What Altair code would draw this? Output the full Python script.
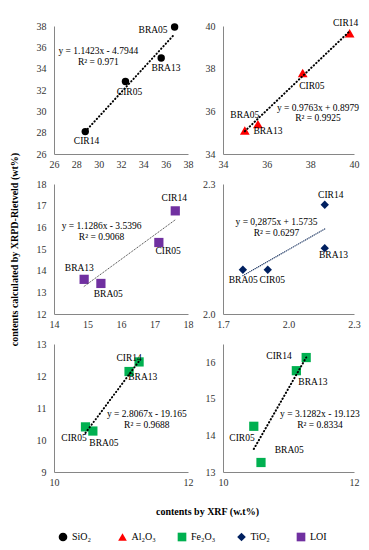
import altair as alt
import pandas as pd

# ---------------- data ----------------
samples = ["BRA05", "BRA13", "CIR05", "CIR14"]
oxides = ["SiO₂", "Al₂O₃", "Fe₂O₃", "TiO₂", "LOI"]
oxide_colors = ["#000000", "#ff0000", "#00b050", "#002060", "#7030a0"]
oxide_shapes = ["circle", "triangle-up", "square", "diamond", "square"]

sio2_xrf = [36.8, 35.6, 32.4, 28.8]
sio2_rietveld = [37.9, 35.0, 32.8, 28.1]
al2o3_xrf = [35.0, 35.6, 37.65, 39.8]
al2o3_rietveld = [35.1, 35.4, 37.8, 39.66]
loi_xrf = [15.4, 14.9, 17.13, 17.62]
loi_rietveld = [13.41, 13.6, 15.3, 16.76]
tio2_xrf = [1.791, 2.166, 1.905, 2.166]
tio2_rietveld = [2.102, 2.152, 2.102, 2.252]
fe2o3_xrf = [10.58, 11.12, 10.47, 11.27]
fe2o3_rietveld_a = [10.28, 12.14, 10.41, 12.44]
fe2o3_rietveld_b = [13.26, 15.77, 14.25, 16.13]

panel_oxide = ["SiO₂", "Al₂O₃", "LOI", "TiO₂", "Fe₂O₃", "Fe₂O₃"]
panel_xrf = [sio2_xrf, al2o3_xrf, loi_xrf, tio2_xrf, fe2o3_xrf, fe2o3_xrf]
panel_riet = [sio2_rietveld, al2o3_rietveld, loi_rietveld, tio2_rietveld,
              fe2o3_rietveld_a, fe2o3_rietveld_b]

trend_slope = [1.1423, 0.9763, 1.1286, 0.2875, 2.8067, 3.1282]
trend_intercept = [-4.7944, 0.8979, -3.5396, 1.5735, -19.165, -19.123]
trend_equation = ["y = 1.1423x - 4.7944", "y = 0.9763x + 0.8979", "y = 1.1286x - 3.5396",
                  "y = 0,2875x + 1.5735", "y = 2.8067x - 19.165", "y = 3.1282x - 19.123"]
trend_r2 = ["R² = 0.971", "R² = 0.9925", "R² = 0.9068", "R² = 0.6297", "R² = 0.9688", "R² = 0.8334"]

x_ticks = [[26, 28, 30, 32, 34, 36, 38], [34, 36, 38, 40], [14, 15, 16, 17, 18],
           [1.7, 2.0, 2.3], [10, 11, 12], [10, 11, 12]]
y_ticks = [[26, 28, 30, 32, 34, 36, 38], [34, 36, 38, 40], [12, 13, 14, 15, 16, 17, 18],
           [2.0, 2.3], [9, 10, 11, 12, 13], [13, 14, 15, 16]]
x_domain = [[26, 38], [34, 40], [14, 18], [1.7, 2.3], [10, 12], [10, 12]]
y_domain = [[26, 38], [34, 40], [12, 18], [2.0, 2.3], [9, 13], [13, 16.5]]

y_title = "contents calculated by XRPD-Rietveld (wt%)"
x_title = "contents by XRF (w.t%)"

# ---------------- styles / placement ----------------
FONT = "Liberation Serif, Times New Roman, serif"
THICK = dict(lc="#000000", lw=2.0, dash=[0.4, 3.0])
STYLE = [
    dict(w=134, h=128, size=55, eq=(29.97, 35.65), **THICK,
         off={"BRA05": (-21.5, 2.6), "BRA13": (4.7, 10), "CIR05": (4, 11), "CIR14": (1.2, 9.3)}),
    dict(w=131, h=128, size=95, eq=(38.35, 36.17), **THICK,
         off={"BRA05": (0, -16), "BRA13": (10, 7.3), "CIR05": (9.2, 12.6), "CIR14": (-4, -10.6)}),
    dict(w=134, h=130, size=85, lc="#404040", lw=1.0, dash=[0.3, 1.7], eq=(15.42, 16.06),
         off={"BRA05": (7.4, 10.7), "BRA13": (-4.8, -11), "CIR05": (9.2, 8.4), "CIR14": (-1, -12.4)}),
    dict(w=131, h=130, size=70, lc="#1f3864", lw=1.2, dash=[0.3, 1.7], eq=(1.945, 2.212),
         off={"BRA05": (0.4, 10.3), "BRA13": (8.8, 7), "CIR05": (4.5, 10.3), "CIR14": (6, -9.7)}),
    dict(w=134, h=128, size=85, eq=(11.385, 10.80), **THICK,
         off={"BRA05": (11, 11.7), "BRA13": (13.7, 5.3), "CIR05": (-11.5, 11.6), "CIR14": (-10, -4.3)}),
    dict(w=131, h=128, size=85, eq=(11.48, 14.58), **THICK,
         off={"BRA05": (28.3, -12.7), "BRA13": (16.5, 11), "CIR05": (-11.8, 11.7), "CIR14": (-27.2, -1.7)}),
]

color_scale = alt.Scale(domain=oxides, range=oxide_colors)
shape_scale = alt.Scale(domain=oxides, range=oxide_shapes)
legend = alt.Legend(title=None, orient="none", legendX=4, legendY=506, direction="horizontal",
                    columns=5, gridAlign="all", columnPadding=20.5, symbolSize=75,
                    labelFont=FONT, labelFontSize=10, labelColor="#000000", labelOffset=4,
                    symbolStrokeWidth=0)


def panel(i):
    st = STYLE[i]
    fmt = ".1f" if i == 3 else "d"
    df = pd.DataFrame({"sample": samples, "xrf": panel_xrf[i], "riet": panel_riet[i],
                       "oxide": [panel_oxide[i]] * len(samples)})
    xa = dict(values=x_ticks[i], format=fmt, labelPadding=5, title=None)
    ya = dict(values=y_ticks[i], format=fmt, labelPadding=8, title=None)
    if i == 2:
        ya.update(title=y_title, titlePadding=17, titleFontWeight="bold", titleFontSize=10,
                  titleFont=FONT, titleColor="#000000")
    if i == 4:
        xa.update(title=x_title, titleX=153, titleY=39, titleBaseline="middle",
                  titleFontWeight="bold", titleFontSize=10, titleFont=FONT, titleColor="#000000")
    x = alt.X("xrf:Q", scale=alt.Scale(domain=x_domain[i], zero=False, nice=False),
              axis=alt.Axis(**xa))
    y = alt.Y("riet:Q", scale=alt.Scale(domain=y_domain[i], zero=False, nice=False),
              axis=alt.Axis(**ya))
    base = alt.Chart(df)
    pts = base.mark_point(filled=True, opacity=1, size=st["size"], strokeWidth=0).encode(
        x=x, y=y,
        color=alt.Color("oxide:N", scale=color_scale, legend=legend),
        shape=alt.Shape("oxide:N", scale=shape_scale, legend=legend),
    )
    xs = [min(panel_xrf[i]), max(panel_xrf[i])]
    tdf = pd.DataFrame({"xrf": xs, "riet": [trend_slope[i] * v + trend_intercept[i] for v in xs]})
    trend = alt.Chart(tdf).mark_line(color=st["lc"], strokeWidth=st["lw"], strokeDash=st["dash"],
                                     strokeCap="round").encode(x=x, y=y)
    edf = pd.DataFrame({"xrf": [st["eq"][0]], "riet": [st["eq"][1]],
                        "eq": [trend_equation[i] + "\n" + trend_r2[i]]})
    eq = alt.Chart(edf).mark_text(font=FONT, fontSize=9.5, lineBreak="\n", lineHeight=10.5,
                                  align="center", baseline="middle", color="#000000").encode(
        x=x, y=y, text="eq:N")
    layers = [pts, trend, eq]
    for s in samples:
        dx, dy = st["off"][s]
        layers.append(base.transform_filter(alt.datum.sample == s).mark_text(
            font=FONT, fontSize=9.5, dx=dx, dy=dy, align="center", baseline="middle",
            color="#000000").encode(x=x, y=y, text="sample:N"))
    return alt.layer(*layers).properties(width=st["w"], height=st["h"])


chart = alt.concat(*[panel(i) for i in range(6)], columns=2,
                   spacing={"row": 30, "column": 35}, bounds="flush").properties(
    padding={"left": 0, "top": 9, "right": 0, "bottom": 0}
).configure(font=FONT).configure_view(stroke=None).configure_axis(
    domainColor="#868686", domainWidth=1, ticks=False, grid=False, labelFlush=False,
    labelOverlap=False, labelFont=FONT, labelFontSize=10, labelColor="#333333")

chart.save("out.html", embed_options={"renderer": "svg", "actions": False})
